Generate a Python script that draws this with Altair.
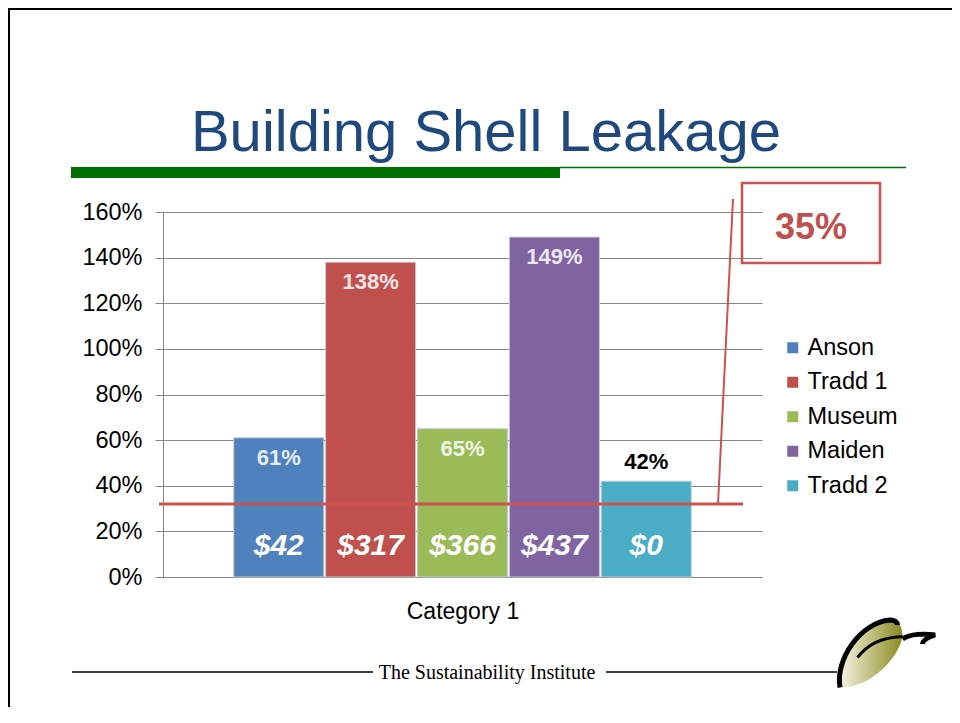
import altair as alt
import pandas as pd

# ---------------- data ----------------
buildings = ["Anson", "Tradd 1", "Museum", "Maiden", "Tradd 2"]
leakage_pct = [0.61, 1.38, 0.65, 1.49, 0.42]
annual_cost = [42, 317, 366, 437, 0]
bar_colors = ["#4F81BD", "#C0504D", "#9BBB59", "#8064A2", "#4BACC6"]
y_ticks = [0, 0.2, 0.4, 0.6, 0.8, 1.0, 1.2, 1.4, 1.6]
target_line = [0.32]
callout_label = ["35%"]
title_text = ["Building Shell Leakage"]
footer_text = ["The Sustainability Institute"]
category_label = "Category 1"

df = pd.DataFrame({"Building": buildings, "Pct": leakage_pct, "Cost": annual_cost})
tdf = pd.DataFrame({"t": target_line})
cdf = pd.DataFrame({"label": callout_label})
ttl = pd.DataFrame({"label": title_text})
ftr = pd.DataFrame({"label": footer_text})

FONT = "Liberation Sans"
RED = "#C9534F"
GRAY = "#868686"
GREEN = "#007000"

x_enc = alt.X(
    "Building:N", sort=buildings,
    scale=alt.Scale(paddingInner=0.02, paddingOuter=0.77),
    axis=alt.Axis(title=category_label, labels=False, ticks=False, domainColor=GRAY,
                  titleFont=FONT, titleFontSize=23, titleFontWeight="normal",
                  titleColor="#000000", titlePadding=23),
)
y_enc = alt.Y(
    "Pct:Q", scale=alt.Scale(domain=[0, 1.6], nice=False),
    axis=alt.Axis(values=y_ticks, format=".0%", title=None, labelFont=FONT,
                  labelFontSize=23.5, labelColor="#000000", tickSize=8, tickColor=GRAY,
                  domainColor=GRAY, gridColor=GRAY, labelPadding=13),
)

bars = alt.Chart(df).mark_bar(stroke="#c3cbd6", strokeWidth=1).encode(
    x=x_enc, y=y_enc,
    color=alt.Color("Building:N", sort=buildings,
                    scale=alt.Scale(domain=buildings, range=bar_colors),
                    legend=alt.Legend(title=None, orient="none", legendX=618, legendY=124,
                                      direction="vertical", symbolType="square",
                                      symbolSize=121, symbolStrokeWidth=0,
                                      labelFont=FONT, labelFontSize=23.5, labelColor="#000000",
                                      rowPadding=9.5, labelOffset=3, padding=0)),
)

pct_in = alt.Chart(df).transform_filter("datum.Pct >= 0.5").mark_text(
    dy=20, font=FONT, fontSize=22, fontWeight="bold", color="white", opacity=0.85
).encode(x=alt.X("Building:N", sort=buildings), y="Pct:Q",
         text=alt.Text("Pct:Q", format=".0%"))

pct_out = alt.Chart(df).transform_filter("datum.Pct < 0.5").mark_text(
    dy=-19, font=FONT, fontSize=22, fontWeight="bold", color="black"
).encode(x=alt.X("Building:N", sort=buildings), y="Pct:Q",
         text=alt.Text("Pct:Q", format=".0%"))

cost = alt.Chart(df).mark_text(
    font=FONT, fontSize=30, fontWeight="bold", fontStyle="italic", color="white"
).encode(x=alt.X("Building:N", sort=buildings), y=alt.value(334),
         text=alt.Text("Cost:Q", format="$,.0f"))

target = alt.Chart(tdf).mark_rule(color=RED, strokeWidth=3).encode(
    y="t:Q", x=alt.value(-4), x2=alt.value(580))

diag = alt.Chart(tdf).mark_rule(color=RED, strokeWidth=2).encode(
    y="t:Q", y2=alt.value(-13), x=alt.value(555), x2=alt.value(570))

box = alt.Chart(cdf).mark_rect(fillOpacity=0, stroke=RED, strokeWidth=2.5).encode(
    x=alt.value(579), x2=alt.value(717), y=alt.value(-29), y2=alt.value(51))

box_text = alt.Chart(cdf).mark_text(
    font=FONT, fontSize=36, fontWeight="bold", color="#C0504D"
).encode(x=alt.value(648), y=alt.value(16), text="label:N")

title = alt.Chart(ttl).mark_text(
    font=FONT, fontSize=58, color="#1F497D", baseline="alphabetic"
).encode(x=alt.value(323), y=alt.value(-61), text="label:N")

green_bar = alt.Chart(ttl).mark_rect(color=GREEN).encode(
    x=alt.value(-92), x2=alt.value(397), y=alt.value(-45), y2=alt.value(-34))
green_line = alt.Chart(ttl).mark_rule(color=GREEN, strokeWidth=1.5).encode(
    x=alt.value(397), x2=alt.value(743), y=alt.value(-44.5))

foot_l = alt.Chart(ftr).mark_rule(color="black", strokeWidth=1.5).encode(
    x=alt.value(-91), x2=alt.value(210), y=alt.value(460))
foot_r = alt.Chart(ftr).mark_rule(color="black", strokeWidth=1.5).encode(
    x=alt.value(443), x2=alt.value(674), y=alt.value(460))
foot_text = alt.Chart(ftr).mark_text(
    font="Liberation Serif", fontSize=20, color="black", baseline="alphabetic"
).encode(x=alt.value(324), y=alt.value(467), text="label:N")

border_l = alt.Chart(ftr).mark_rule(color="black", strokeWidth=2).encode(
    x=alt.value(-154), y=alt.value(-204), y2=alt.value(495))
border_t = alt.Chart(ftr).mark_rule(color="black", strokeWidth=2).encode(
    x=alt.value(-155), x2=alt.value(789), y=alt.value(-203))

# logo (decorative leaf)
LEAF = ("M -0.9 0.75 C -1.0 0.2 -0.5 -0.55 0.1 -0.6 C 0.35 -0.6 0.4 -0.3 0.3 -0.1 "
        "C 0.15 0.25 -0.3 0.75 -0.9 0.75 Z")
EDGE = "M -0.9 0.75 C -1.0 0.2 -0.5 -0.55 0.1 -0.6 C 0.2 -0.6 0.25 -0.55 0.25 -0.5"
SWOOSH = "M 0.35 -0.22 C 0.5 -0.33 0.8 -0.33 1.0 -0.3 C 0.85 -0.25 0.75 -0.2 0.75 -0.12"
INNER = "M -0.55 0.15 C -0.35 -0.1 -0.1 -0.25 0.35 -0.27"
LOGO_SIZE = 10000
lx, ly = 722, 438
grad = alt.Gradient(gradient="linear",
                    stops=[alt.GradientStop(color="#f6f6e4", offset=0),
                           alt.GradientStop(color="#8c8a1e", offset=1)],
                    x1=0, x2=1, y1=0, y2=0)
leaf = alt.Chart(ftr).mark_point(shape=LEAF, size=LOGO_SIZE, filled=True, fill=grad,
                                 strokeWidth=0, opacity=1).encode(
    x=alt.value(lx), y=alt.value(ly))
edge = alt.Chart(ftr).mark_point(shape=EDGE, size=LOGO_SIZE, filled=False, stroke="black",
                                 strokeWidth=5, opacity=1).encode(
    x=alt.value(lx), y=alt.value(ly))
swoosh = alt.Chart(ftr).mark_point(shape=SWOOSH, size=LOGO_SIZE, filled=False, stroke="black",
                                   strokeWidth=5, opacity=1).encode(
    x=alt.value(lx), y=alt.value(ly))
inner = alt.Chart(ftr).mark_point(shape=INNER, size=LOGO_SIZE, filled=False, stroke="black",
                                  strokeWidth=3, opacity=1).encode(
    x=alt.value(lx), y=alt.value(ly))

chart = alt.layer(
    bars, pct_in, pct_out, cost, target, diag, box, box_text, title,
    green_bar, green_line, foot_l, foot_r, foot_text, border_l, border_t,
    leaf, edge, swoosh, inner,
).properties(
    width=599, height=365,
    padding={"left": 155, "top": 204, "right": 190, "bottom": 130},
    autosize=alt.AutoSizeParams(type="none"),
    background="white",
).configure_view(stroke=None)

chart.save("out.html", embed_options={"renderer": "svg", "actions": False})
